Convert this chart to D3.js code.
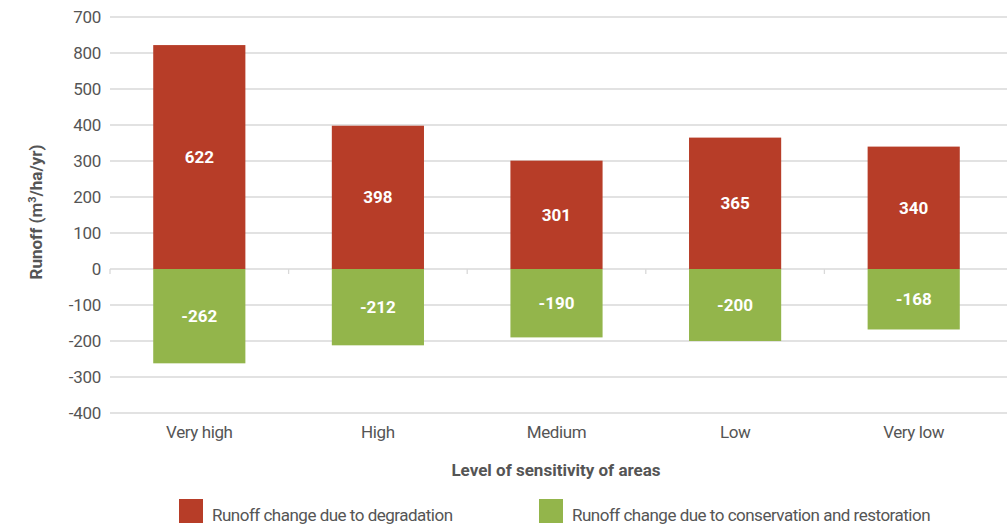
<!DOCTYPE html>
<html><head><meta charset="utf-8">
<script src="https://cdn.jsdelivr.net/npm/d3@7"></script>
<style>
body{margin:0;background:#fff;}
text{font-family:"Roboto","Noto Sans",sans-serif;}
</style></head>
<body><svg id="c" width="1007" height="527"></svg>
<script>
const categories = ["Very high","High","Medium","Low","Very low"];
const degradation = [622, 398, 301, 365, 340];
const conservation = [-262, -212, -190, -200, -168];
const tickValues = [-400,-300,-200,-100,0,100,200,300,400,500,600,700];
const tickLabels = ["-400","-300","-200","-100","0","100","200","300","400","500","800","700"];
const seriesNames = ["Runoff change due to degradation","Runoff change due to conservation and restoration"];
const colors = ["#b73d28","#93b54b"];

const svg = d3.select("#c");
const x = d3.scaleBand().domain(categories).range([110,1003]).paddingInner(0.484).paddingOuter(0.242);
const y = d3.scaleLinear().domain([-400,700]).range([413,17]);

// gridlines
svg.append("g").selectAll("line").data(tickValues).join("line")
  .attr("x1",110).attr("x2",1007).attr("y1",d=>y(d)).attr("y2",d=>y(d))
  .attr("stroke","#d9d9d9").attr("stroke-width",1.3);

// y tick labels
const yAxis = d3.axisLeft(y).tickValues(tickValues).tickSize(0).tickPadding(0)
  .tickFormat((d,i)=>tickLabels[i]);
const ya = svg.append("g").attr("transform","translate(101,0)").call(yAxis);
ya.select(".domain").remove();
ya.selectAll("text").attr("font-size",17).attr("fill","#555").attr("letter-spacing","-0.3px");

// category separator ticks at zero
const bounds = [110].concat(categories.map(c=>x(c)+x.bandwidth()+x.step()*x.paddingInner()/2));
svg.append("g").selectAll("line").data(bounds.slice(0,5)).join("line")
  .attr("x1",d=>d).attr("x2",d=>d).attr("y1",y(0)).attr("y2",y(0)+5)
  .attr("stroke","#d9d9d9").attr("stroke-width",1.3);

// bars
const rows = categories.map((c,i)=>({c, a:degradation[i], b:conservation[i]}));
svg.append("g").selectAll("rect").data(rows).join("rect")
  .attr("x",d=>x(d.c)).attr("width",x.bandwidth())
  .attr("y",d=>y(d.a)).attr("height",d=>y(0)-y(d.a)).attr("fill",colors[0]);
svg.append("g").selectAll("rect").data(rows).join("rect")
  .attr("x",d=>x(d.c)).attr("width",x.bandwidth())
  .attr("y",y(0)).attr("height",d=>y(d.b)-y(0)).attr("fill",colors[1]);

// value labels
svg.append("g").selectAll("text").data(rows).join("text")
  .attr("x",d=>x(d.c)+x.bandwidth()/2).attr("y",d=>(y(d.a)+y(0))/2)
  .attr("dy","0.35em").attr("text-anchor","middle").attr("fill","#fff")
  .attr("font-size",17).attr("font-weight","bold").text(d=>d.a);
svg.append("g").selectAll("text").data(rows).join("text")
  .attr("x",d=>x(d.c)+x.bandwidth()/2).attr("y",d=>(y(d.b)+y(0))/2)
  .attr("dy","0.35em").attr("text-anchor","middle").attr("fill","#fff")
  .attr("font-size",17).attr("font-weight","bold").text(d=>d.b);

// x axis labels
const xAxis = d3.axisBottom(x).tickSize(0).tickPadding(0);
const xa = svg.append("g").attr("transform","translate(0,426)").call(xAxis);
xa.select(".domain").remove();
xa.selectAll("text").attr("font-size",17).attr("fill","#555").attr("dy","0.71em").attr("letter-spacing","-0.4px");

// axis titles
svg.append("text").attr("x",556).attr("y",476).attr("text-anchor","middle")
  .attr("font-size",17).attr("font-weight","bold").attr("fill","#555")
  .text("Level of sensitivity of areas");
const yt = svg.append("text").attr("transform","translate(42,212) rotate(-90)")
  .attr("text-anchor","middle").attr("font-size",17).attr("font-weight","bold").attr("fill","#555");
yt.append("tspan").text("Runoff (m");
yt.append("tspan").attr("font-size",11).attr("dy",-6).text("3");
yt.append("tspan").attr("dy",6).text("/ha/yr)");

// legend
const lx = [179,539];
const lg = svg.append("g").selectAll("g").data(seriesNames).join("g")
  .attr("transform",(d,i)=>`translate(${lx[i]},499)`);
lg.append("rect").attr("width",24).attr("height",24).attr("fill",(d,i)=>colors[i]);
lg.append("text").attr("x",33).attr("y",22).attr("font-size",17).attr("fill","#555")
  .attr("letter-spacing","-0.5px").text(d=>d);
</script></body></html>
